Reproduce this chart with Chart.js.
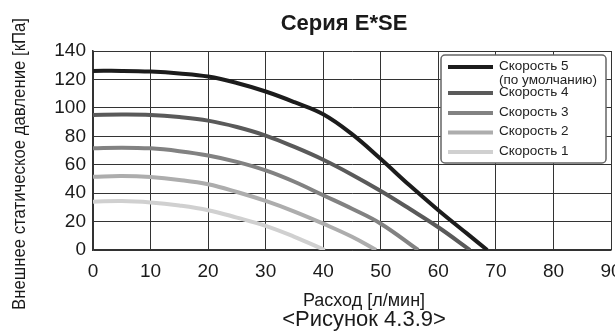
<!DOCTYPE html>
<html>
<head>
<meta charset="utf-8">
<title>Серия E*SE</title>
<script src="https://cdn.jsdelivr.net/npm/chart.js@4.4.1/dist/chart.umd.min.js"></script>
<style>
    html, body { margin: 0; padding: 0; background: #ffffff; }
    #wrap { width: 615px; height: 335px; position: relative; }
</style>
</head>
<body>
<div id="wrap"><canvas id="pumpChart"></canvas></div>
<script>
// Data: flow [l/min] vs external static pressure [kPa]
const seriesLabels = ['Скорость 5\n(по умолчанию)', 'Скорость 4', 'Скорость 3', 'Скорость 2', 'Скорость 1'];

const speed5Flow = [0, 5, 10, 15, 20, 25, 30, 35, 40, 45, 50, 55, 60, 65, 68.5];
const speed5Pressure = [126, 126, 125.5, 124.2, 122, 117.5, 111.5, 104, 95.5, 81.5, 64, 45.5, 28, 11.5, 0];

const speed4Flow = [0, 5, 10, 15, 20, 25, 30, 35, 40, 45, 50, 55, 60, 65.5];
const speed4Pressure = [95, 95.3, 95, 93.5, 91, 86.5, 80.5, 72.5, 63.5, 53, 41.5, 29, 16, 0];

const speed3Flow = [0, 5, 10, 15, 20, 25, 30, 35, 40, 45, 50, 56.5];
const speed3Pressure = [71.5, 72, 71.5, 69.5, 66.5, 62, 56, 48, 38.5, 29, 18.5, 0];

const speed2Flow = [0, 5, 10, 15, 20, 25, 30, 35, 40, 45, 49.2];
const speed2Pressure = [51.5, 52, 51.3, 49.3, 46.2, 40.8, 34.5, 27, 18.5, 9.3, 0];

const speed1Flow = [0, 5, 10, 15, 20, 25, 30, 35, 40.3];
const speed1Pressure = [34, 34.5, 33.5, 31.3, 28, 22.8, 17, 9.3, 0];

const xTicks = [0, 10, 20, 30, 40, 50, 60, 70, 80, 90];
const yTicks = [0, 20, 40, 60, 80, 100, 120, 140];

const chartTitle = 'Серия E*SE';
const xTitle = 'Расход [л/мин]';
const yTitle = 'Внешнее статическое давление [кПа]';
const figureCaption = '<Рисунок 4.3.9>';

const lineColors = ['#1c1c1c', '#5a5a5a', '#828282', '#adadad', '#d0d0d0'];
const FONT = "'Liberation Sans', Arial, Helvetica, sans-serif";
const TEXT = '#1a1a1a';
const GRID = '#333333';

const toPoints = (xs, ys) => xs.map((x, i) => ({ x: x, y: ys[i] }));

// texts + legend drawn by hand, chart.js has no two-line legend entry
const decorPlugin = {
    id: 'decor',
    afterDraw(chart) {
        const ctx = chart.ctx;
        const area = chart.chartArea;
        ctx.save();
        ctx.fillStyle = TEXT;
        ctx.textAlign = 'center';
        ctx.textBaseline = 'middle';

        ctx.font = 'bold 22px ' + FONT;
        ctx.fillText(chartTitle, 344, 24);

        ctx.font = '18px ' + FONT;
        ctx.fillText(xTitle, 364, 301);

        ctx.font = '22px ' + FONT;
        ctx.fillText(figureCaption, 364, 320);

        // y title, a bit condensed like the original
        ctx.save();
        ctx.translate(20, 164);
        ctx.rotate(-Math.PI / 2);
        ctx.font = '18px ' + FONT;
        const w = ctx.measureText(yTitle).width;
        ctx.scale(292 / w, 1);
        ctx.fillText(yTitle, 0, 0);
        ctx.restore();

        // legend box
        const left = 441, top = area.top + 4;
        const width = area.right - 5 - left, height = 108;
        ctx.beginPath();
        ctx.roundRect(left, top, width, height, 4);
        ctx.fillStyle = '#ffffff';
        ctx.fill();
        ctx.lineWidth = 1.5;
        ctx.strokeStyle = '#666666';
        ctx.stroke();

        const rowY = [67, 93, 113, 132.5, 152];
        ctx.textAlign = 'left';
        ctx.font = '13.5px ' + FONT;
        chart.data.datasets.forEach((ds, i) => {
            const y = rowY[i];
            ctx.beginPath();
            ctx.moveTo(448, y);
            ctx.lineTo(493, y);
            ctx.lineWidth = 4;
            ctx.strokeStyle = ds.borderColor;
            ctx.stroke();
            ctx.fillStyle = '#222222';
            ds.label.split('\n').forEach((line, k) => {
                ctx.fillText(line, 499, y - 1 + k * 14);
            });
        });
        ctx.restore();
    }
};

function initChart() {
    console.log('Building pump curve chart...');
    if (typeof Chart === 'undefined') {
        console.error('Chart.js is not loaded!');
        return;
    }

    const canvas = document.getElementById('pumpChart');
    const flows = [speed5Flow, speed4Flow, speed3Flow, speed2Flow, speed1Flow];
    const pressures = [speed5Pressure, speed4Pressure, speed3Pressure, speed2Pressure, speed1Pressure];

    new Chart(canvas.getContext('2d'), {
        type: 'line',
        data: {
            datasets: seriesLabels.map((label, i) => ({
                label: label,
                data: toPoints(flows[i], pressures[i]),
                borderColor: lineColors[i],
                backgroundColor: lineColors[i],
                borderWidth: 4,
                pointRadius: 0,
                tension: 0.4,
                fill: false
            }))
        },
        options: {
            responsive: true,
            maintainAspectRatio: false,
            animation: false,
            layout: {
                padding: { left: 0, right: 4, top: 51, bottom: 0 }
            },
            scales: {
                x: {
                    type: 'linear',
                    min: xTicks[0],
                    max: xTicks[xTicks.length - 1],
                    afterBuildTicks: (scale) => { scale.ticks = xTicks.map(v => ({ value: v })); },
                    afterFit: (scale) => {
                        scale.height = 85;
                        scale.paddingLeft = 0;
                        scale.paddingRight = 0;
                    },
                    grid: { color: GRID, lineWidth: 1, drawTicks: false },
                    border: { color: GRID, width: 1.5 },
                    ticks: {
                        color: TEXT,
                        padding: 10,
                        maxRotation: 0,
                        font: { family: FONT, size: 19 }
                    }
                },
                y: {
                    min: yTicks[0],
                    max: yTicks[yTicks.length - 1],
                    afterBuildTicks: (scale) => { scale.ticks = yTicks.map(v => ({ value: v })); },
                    afterFit: (scale) => { scale.width = 93; },
                    grid: { color: GRID, lineWidth: 1, drawTicks: false },
                    border: { color: GRID, width: 1.5 },
                    ticks: {
                        color: TEXT,
                        padding: 7,
                        font: { family: FONT, size: 19 }
                    }
                }
            },
            plugins: {
                legend: { display: false },
                title: { display: false },
                tooltip: { enabled: false }
            }
        },
        plugins: [decorPlugin]
    });
    console.log('Chart done');
}

document.addEventListener('DOMContentLoaded', function() {
    initChart();
});
</script>
</body>
</html>
